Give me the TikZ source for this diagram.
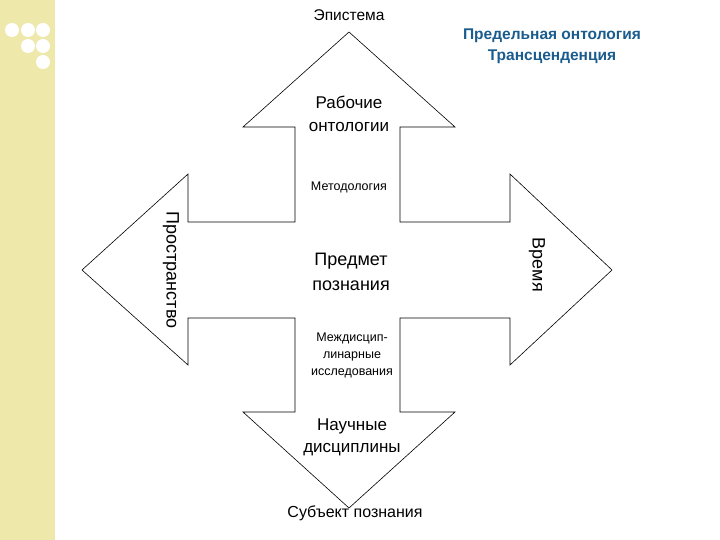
\documentclass[tikz,border=0pt]{standalone}
\usepackage{fontspec}
\setmainfont{Liberation Sans}
\definecolor{strip}{HTML}{EEE8AA}
\definecolor{titleblue}{HTML}{1B5C8E}
\begin{document}
\begin{tikzpicture}[x=1pt,y=-1pt,
  lbl/.style 2 args={align=center,inner sep=1pt,font=\fontsize{#1}{#2}\selectfont}]
\useasboundingbox (0,0) rectangle (720,540);
\fill[strip] (0,0) rectangle (55,540);
\foreach \p in {(12,30),(28,30),(43,30),(28,46),(43,46),(43,62)}
  \fill[white] \p circle (7);
\draw[line width=0.6pt,line join=miter]
 (349,32) -- (455,127) -- (400,127) -- (400,222) -- (510,222) -- (510,174)
 -- (612,270) -- (510,365) -- (510,318) -- (400,318) -- (400,412)
 -- (455,412) -- (349,508) -- (243,412) -- (295,412) -- (295,318)
 -- (188,318) -- (188,365) -- (82,270) -- (188,174) -- (188,222)
 -- (295,222) -- (295,127) -- (243,127) -- cycle;
\node[lbl={15.5}{18}] (ep) at (349,15) {Эпистема};
\node[lbl={15.5}{21},font=\bfseries\fontsize{15.5}{21}\selectfont,text=titleblue] (pr) at (552,46) {Предельная онтология\\Трансценденция};
\node[lbl={17}{23}] (ro) at (349,114) {Рабочие\\онтологии};
\node[lbl={12.5}{15}] (me) at (349,187) {Методология};
\node[lbl={18}{25}] (pz) at (351,272) {Предмет\\познания};
\node[lbl={12.5}{17}] (md) at (352,355) {Междисцип-\\линарные\\исследования};
\node[lbl={17}{22}] (nd) at (352,437) {Научные\\дисциплины};
\node[lbl={16}{18}] (sp) at (355,513) {Субъект познания};
\node[lbl={18}{20},rotate=-90] (sp2) at (171,270) {Пространство};
\node[lbl={18}{20},rotate=-90] (vr) at (537,265) {Время};
\end{tikzpicture}
\end{document}
